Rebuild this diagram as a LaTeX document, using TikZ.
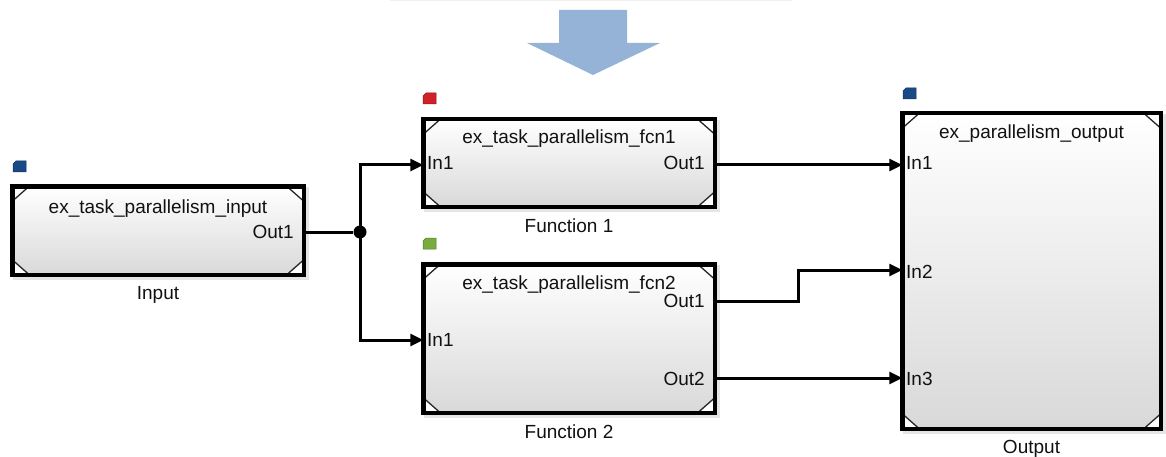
\documentclass[tikz,border=0pt]{standalone}
\usepackage{fontspec}
\setmainfont{Liberation Sans}
\usetikzlibrary{arrows.meta}
\definecolor{txt}{HTML}{111111}
\definecolor{arrowblue}{HTML}{95B3D7}
\definecolor{tagblue}{HTML}{1A4A86}
\definecolor{tagred}{HTML}{D02028}
\definecolor{taggreen}{HTML}{78AC3C}
\tikzset{
  x=1pt, y=-1pt,
  blk/.style={draw=black, line width=4.5pt, top color=white, bottom color=black!15,
    inner sep=0pt, outer sep=0pt,
    path picture={
      \fill[white] (path picture bounding box.north west) -- ++(17pt,0pt) -- ++(-17pt,-15pt) -- cycle;
      \draw[black!85, line width=1.3pt] ([xshift=17pt]path picture bounding box.north west) -- ++(-17pt,-15pt);
      \fill[white] (path picture bounding box.north east) -- ++(-17pt,0pt) -- ++(17pt,-15pt) -- cycle;
      \draw[black!85, line width=1.3pt] ([xshift=-17pt]path picture bounding box.north east) -- ++(17pt,-15pt);
      \fill[white] (path picture bounding box.south west) -- ++(17pt,0pt) -- ++(-17pt,15pt) -- cycle;
      \draw[black!85, line width=1.3pt] ([xshift=17pt]path picture bounding box.south west) -- ++(-17pt,15pt);
      \fill[white] (path picture bounding box.south east) -- ++(-17pt,0pt) -- ++(17pt,15pt) -- cycle;
      \draw[black!85, line width=1.3pt] ([xshift=-17pt]path picture bounding box.south east) -- ++(17pt,15pt);
    }},
  lbl/.style={font=\fontsize{19}{22}\selectfont, text=txt, inner sep=0pt, anchor=base},
  inlbl/.style={lbl, anchor=base west},
  outlbl/.style={lbl, anchor=base east},
  wire/.style={line width=3pt, black},
  sig/.style={wire, -{Triangle[length=13pt,width=12pt]}},
  dot/.style={circle, fill=black, inner sep=0pt, minimum size=13pt},
}
\newcommand{\tagmark}[4]{% name, colour, left x, top y
  \fill[#2, draw=#2!70!black, line width=0.5pt] (#3+3,#4) -- (#3+13,#4) -- (#3+13,#4+11) -- (#3,#4+11) -- (#3,#4+3) -- cycle;
  \coordinate (#1) at (#3+6.5,#4+5.5);
}
\begin{document}
\begin{tikzpicture}
\useasboundingbox (0,0) rectangle (1166,457);

% faint frame edge at the top
\draw[black!6, line width=1pt] (390,1) -- (792,1);

% big down arrow
\fill[arrowblue] (559,10) -- (627,10) -- (627,43) -- (660,43) -- (593,75) -- (527,43) -- (559,43) -- cycle;

% soft shadows behind the blocks
\fill[black!10] (13,187) rectangle (309,280);
\fill[black!10] (424,120) rectangle (720,212);
\fill[black!10] (424,265) rectangle (720,418);
\fill[black!10] (903,114) rectangle (1166,434);

% blocks (outer edges: input 10..306 x 184..277 etc.)
\node[blk, minimum width=291.5pt, minimum height=88.5pt] (inp) at (158,230.5) {};
\node[blk, minimum width=291.5pt, minimum height=87.5pt] (f1) at (569,163) {};
\node[blk, minimum width=291.5pt, minimum height=148.5pt] (f2) at (569,338.5) {};
\node[blk, minimum width=258.5pt, minimum height=315.5pt] (outp) at (1031.5,271) {};

% sample-time tags
\tagmark{tagin}{tagblue}{13}{161}
\tagmark{tagf1}{tagred}{423}{93}
\tagmark{tagf2}{taggreen}{423}{238}
\tagmark{tagout}{tagblue}{903}{88}

% block titles
\node[lbl] (inp-t) at (158,213) {ex\_task\_parallelism\_input};
\node[lbl] (f1-t) at (569,144) {ex\_task\_parallelism\_fcn1};
\node[lbl] (f2-t) at (569,289) {ex\_task\_parallelism\_fcn2};
\node[lbl] (outp-t) at (1031.5,139) {ex\_parallelism\_output};

% block names
\node[lbl] (inp-n) at (158,299) {Input};
\node[lbl] (f1-n) at (569,232) {Function 1};
\node[lbl] (f2-n) at (569,438) {Function 2};
\node[lbl] (outp-n) at (1031.5,453) {Output};

% port labels
\node[outlbl] (inp-o1l) at (294,238) {Out1};
\node[inlbl] (f1-i1l) at (427,170) {In1};
\node[outlbl] (f1-o1l) at (705,170) {Out1};
\node[inlbl] (f2-i1l) at (427,346) {In1};
\node[outlbl] (f2-o1l) at (705,307) {Out1};
\node[outlbl] (f2-o2l) at (705,385) {Out2};
\node[inlbl] (outp-i1l) at (906,170) {In1};
\node[inlbl] (outp-i2l) at (906,278) {In2};
\node[inlbl] (outp-i3l) at (906,385) {In3};

% port points on the block edges
\coordinate (inp-o1) at (inp.east |- 0,232);
\coordinate (f1-i1) at (f1.west |- 0,165);
\coordinate (f1-o1) at (f1.east |- 0,165);
\coordinate (f2-i1) at (f2.west |- 0,340);
\coordinate (f2-o1) at (f2.east |- 0,301);
\coordinate (f2-o2) at (f2.east |- 0,378);
\coordinate (outp-i1) at (outp.west |- 0,165);
\coordinate (outp-i2) at (outp.west |- 0,270);
\coordinate (outp-i3) at (outp.west |- 0,378);
\coordinate (bend) at (798,270);

% signal lines
\node[dot] (j) at (360,232) {};
\draw[wire] (inp-o1) -- (j);
\draw[sig] (j.center) |- (f1-i1);
\draw[sig] (j.center) |- (f2-i1);
\draw[sig] (f1-o1) -- (outp-i1);
\draw[sig] (f2-o1) -| (bend) -- (outp-i2);
\draw[sig] (f2-o2) -- (outp-i3);
\end{tikzpicture}
\end{document}
